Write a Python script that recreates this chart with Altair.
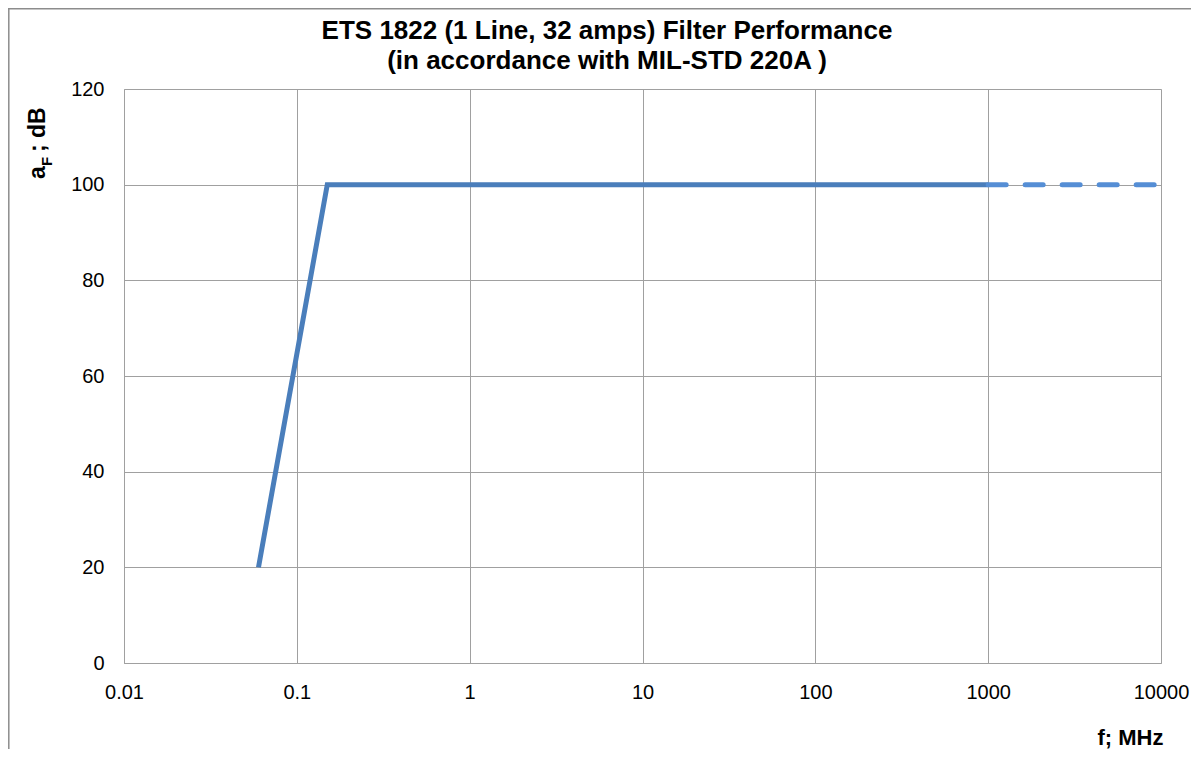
import altair as alt
import pandas as pd

# Data
freq_solid = [0.06, 0.15, 1000]
att_solid = [20, 100, 100]
freq_dashed = [1000, 10000]
att_dashed = [100, 100]

x_ticks = [0.01, 0.1, 1, 10, 100, 1000, 10000]
y_ticks = [0, 20, 40, 60, 80, 100, 120]

title_line1 = "ETS 1822 (1 Line, 32 amps) Filter Performance"
title_line2 = "(in accordance with MIL-STD 220A )"

df_solid = pd.DataFrame({"f": freq_solid, "a": att_solid})
df_dashed = pd.DataFrame({"f": freq_dashed, "a": att_dashed})
df_one = pd.DataFrame({"k": [0]})

W, H = 1037, 574
FONT = "Liberation Sans"
GRID = "#A0A0A0"

xscale = alt.Scale(type="log", domain=[0.01, 10000], nice=False)
yscale = alt.Scale(domain=[0, 120], nice=False)

xaxis = alt.Axis(values=x_ticks, format="~g", grid=True, gridColor=GRID,
                 ticks=False, domainColor=GRID, labelFont=FONT, labelFontSize=20,
                 labelColor="#000000", labelPadding=19, labelFlush=False,
                 title="f; MHz", titleFont=FONT, titleFontSize=22,
                 titleFontWeight="bold", titleColor="#000000",
                 titleAnchor="end", titleAlign="right", titleX=W + 2, titleY=74,
                 titleBaseline="middle")
yaxis = alt.Axis(values=y_ticks, grid=True, gridColor=GRID, ticks=False,
                 domainColor=GRID, labelFont=FONT, labelFontSize=20,
                 labelColor="#000000", labelPadding=20, title=None)

solid = alt.Chart(df_solid).mark_line(color="#4A7EBB", strokeWidth=5).encode(
    x=alt.X("f:Q", scale=xscale, axis=xaxis),
    y=alt.Y("a:Q", scale=yscale, axis=yaxis),
)
dashed = alt.Chart(df_dashed).mark_line(
    color="#558ED5", strokeWidth=5, strokeDash=[18, 19], strokeCap="round"
).encode(
    x=alt.X("f:Q", scale=xscale),
    y=alt.Y("a:Q", scale=yscale),
)

def txt(text, x, y, size, angle=0, align="center"):
    return alt.Chart(df_one).mark_text(
        text=text, angle=angle, align=align, baseline="alphabetic",
        font=FONT, fontSize=size, fontWeight="bold", color="#000000"
    ).encode(x=alt.value(x), y=alt.value(y))

# chart title (two lines, centred on the chart area)
title1 = txt(title_line1, 483, -50, 26)
title2 = txt(title_line2, 483, -20, 26)

# y-axis title "a_F ; dB" built from text pieces (subscript F)
ytitle_a = txt("a", -79, 90, 23, angle=270, align="left")
ytitle_f = txt("F", -72, 77, 15, angle=270, align="left")
ytitle_db = txt("; dB", -79, 63, 23, angle=270, align="left")

# outer chart-area border (left and top edges)
border_left = alt.Chart(df_one).mark_rule(color="#8C8C8C", strokeWidth=1.5).encode(
    x=alt.value(-115.2), y=alt.value(-80.2), y2=alt.value(H + 90)
)
border_top = alt.Chart(df_one).mark_rule(color="#8C8C8C", strokeWidth=1.5).encode(
    x=alt.value(-116), x2=alt.value(W + 30), y=alt.value(-80.2)
)

chart = alt.layer(
    solid, dashed, title1, title2, ytitle_a, ytitle_f, ytitle_db,
    border_left, border_top
).properties(
    width=W, height=H,
    autosize=alt.AutoSizeParams(type="none"),
    padding={"left": 116, "top": 81, "right": 30, "bottom": 86},
).configure_view(stroke=GRID, strokeWidth=1).configure(background="white")

chart.save("out.html", embed_options={"renderer": "svg", "actions": False})
